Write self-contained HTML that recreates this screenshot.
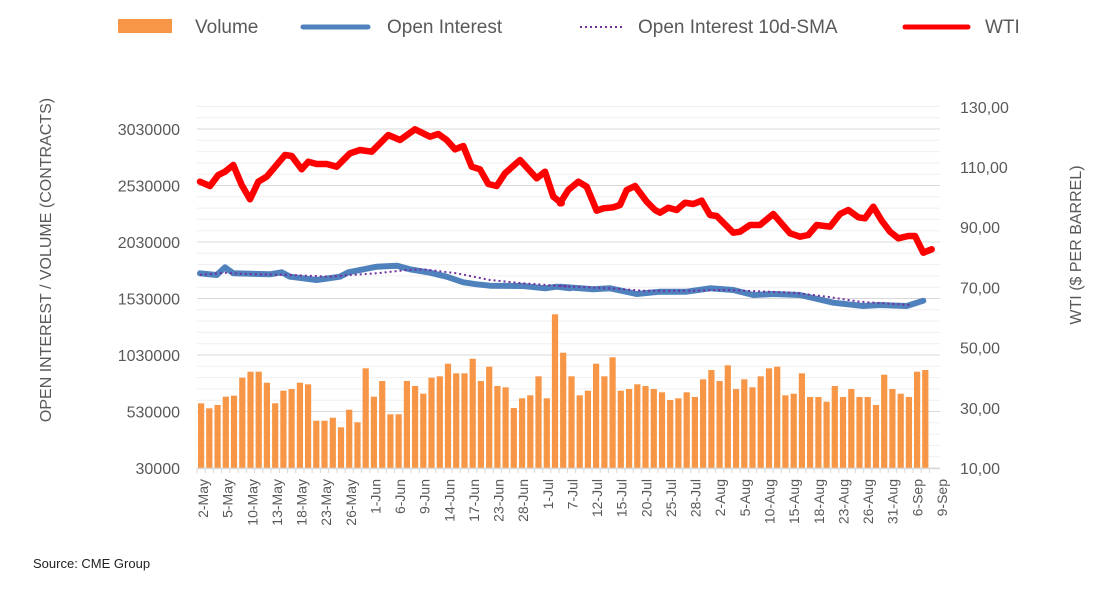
<!DOCTYPE html>
<html><head><meta charset="utf-8"><style>
body{margin:0;background:#fff;width:1103px;height:593px;overflow:hidden}
text{font-family:"Liberation Sans",sans-serif;fill:#595959}
</style></head><body>
<svg id="s" width="1103" height="593" xmlns="http://www.w3.org/2000/svg"></svg>
<script>
const s=document.getElementById('s');let h='';
for(let i=0;i<=32;i++){const y=468-i*11.3;if(y<105)break;h+=`<line x1="197" x2="940" y1="${y}" y2="${y}" stroke="${i%5==0?'#d9d9d9':'#efefef'}" stroke-width="1"/>`;}
const b1=[880,895,885,860,857,803,785,785,818,880,842,837,818,823,932,932,923,952,899,937,775,860,813,913,913,813,828,851,803,799,761,790,790,746,813,770,828,832,894,865,856,799,865,613];
const b2=[728,799,856,842,761,799,742,842,837,823,828,837,847,870,865,847,861,808,780,813,766,837,808,832,799,775,770,856,851,790,861,861,875,828,861,837,861,861,885,794,837,851,861,785,780];
const bars=b1.concat(b2);
bars.forEach((zy,i)=>{const x=198+i*8.23;const y=110+zy/3;h+=`<rect x="${x.toFixed(1)}" y="${y.toFixed(1)}" width="6.2" height="${(468-y).toFixed(1)}" fill="#f79646"/>`;});
h+=`<line x1="197" x2="940" y1="468.5" y2="468.5" stroke="#d9d9d9" stroke-width="1.5"/>`;
for(let i=0;i<=89;i++){const x=197+i*8.23;h+=`<line x1="${x}" x2="${x}" y1="468" y2="473" stroke="#d9d9d9"/>`;}
function pts(a,b){return a.map(p=>[190+p[0]/3,110+p[1]/3]).concat(b.map(p=>[560+p[0]/3,110+p[1]/3])).map(p=>p[0].toFixed(1)+','+p[1].toFixed(1)).join(' ');}
const sma=pts([[30,495],[100,488],[160,492],[300,495],[420,500],[480,495],[560,490],[650,480],[700,478],[800,490],[900,510],[1000,520],[1140,530]],[[0,528],[150,535],[250,542],[400,542],[500,540],[700,548],[800,560],[900,575],[1050,585]]);
const oi=pts([[30,490],[80,495],[105,472],[130,490],[240,493],[275,487],[300,500],[380,510],[450,500],[475,487],[560,470],[620,467],[660,478],[720,488],[770,500],[820,517],[860,523],[900,527],[1000,528],[1065,535],[1100,530],[1140,535]],[[0,530],[100,538],[150,535],[230,552],[300,545],[380,545],[450,535],[520,540],[580,555],[640,552],[720,555],[820,578],[910,588],[960,585],[1040,588],[1090,572]]);
const wti=pts([[30,215],[60,228],[85,195],[105,185],[130,165],[155,225],[180,268],[205,215],[230,200],[285,135],[305,138],[335,178],[355,155],[380,162],[410,162],[440,170],[480,130],[510,120],[545,125],[595,75],[630,90],[675,58],[720,80],[745,72],[770,90],[795,118],[820,108],[845,170],[870,178],[895,222],[920,228],[945,190],[990,150],[1040,205],[1065,185],[1090,260],[1115,280]],[[0,280],[25,240],[55,215],[80,230],[110,302],[130,295],[160,292],[180,285],[200,240],[225,228],[260,275],[285,300],[300,308],[325,293],[350,300],[375,278],[400,282],[425,272],[450,315],[470,318],[520,368],[540,365],[570,345],[600,345],[640,312],[690,370],[720,380],[745,375],[770,345],[810,350],[840,312],[865,300],[895,322],[915,325],[940,290],[965,332],[990,365],[1015,385],[1045,378],[1065,378],[1090,428],[1115,418]]);
h+=`<polyline points="${oi}" fill="none" stroke="#4f81bd" stroke-width="6" stroke-linejoin="round" stroke-linecap="round"/>`;
h+=`<polyline points="${sma}" fill="none" stroke="#7030a0" stroke-width="2" stroke-dasharray="2,3"/>`;
h+=`<polyline points="${wti}" fill="none" stroke="#ff0000" stroke-width="6.5" stroke-linejoin="round" stroke-linecap="round"/>`;
const L=['30000','530000','1030000','1530000','2030000','2530000','3030000'];
L.forEach((t,i)=>{h+=`<text x="180" y="${468-i*56.5+6}" font-size="16" text-anchor="end">${t}</text>`;});
const R=['10,00','30,00','50,00','70,00','90,00','110,00','130,00'];
R.forEach((t,i)=>{h+=`<text x="960" y="${468-i*60.2+6}" font-size="16">${t}</text>`;});
h+=`<text transform="translate(51,260) rotate(-90)" font-size="16" text-anchor="middle">OPEN INTEREST / VOLUME (CONTRACTS)</text>`;
h+=`<text transform="translate(1081,245) rotate(-90)" font-size="16" text-anchor="middle">WTI ($ PER BARREL)</text>`;
const X=['2-May','5-May','10-May','13-May','18-May','23-May','26-May','1-Jun','6-Jun','9-Jun','14-Jun','17-Jun','23-Jun','28-Jun','1-Jul','7-Jul','12-Jul','15-Jul','20-Jul','25-Jul','28-Jul','2-Aug','5-Aug','10-Aug','15-Aug','18-Aug','23-Aug','26-Aug','31-Aug','6-Sep','9-Sep'];
X.forEach((t,i)=>{const x=203+i*24.63+5;h+=`<text transform="translate(${x.toFixed(1)},479) rotate(-90)" font-size="14" text-anchor="end">${t}</text>`;});
h+=`<rect x="118" y="19" width="54" height="14" fill="#f79646"/><text x="195" y="33" font-size="19">Volume</text>`;
h+=`<line x1="303" x2="368" y1="27" y2="27" stroke="#4f81bd" stroke-width="5" stroke-linecap="round"/><text x="387" y="33" font-size="19">Open Interest</text>`;
h+=`<line x1="580" x2="625" y1="27" y2="27" stroke="#7030a0" stroke-width="2" stroke-dasharray="2,3"/><text x="638" y="33" font-size="19">Open Interest 10d-SMA</text>`;
h+=`<line x1="905" x2="968" y1="27" y2="27" stroke="#ff0000" stroke-width="5" stroke-linecap="round"/><text x="985" y="33" font-size="19">WTI</text>`;
h+=`<text x="33" y="568" font-size="13" style="fill:#222">Source: CME Group</text>`;
s.innerHTML=h;
</script>
</body></html>
